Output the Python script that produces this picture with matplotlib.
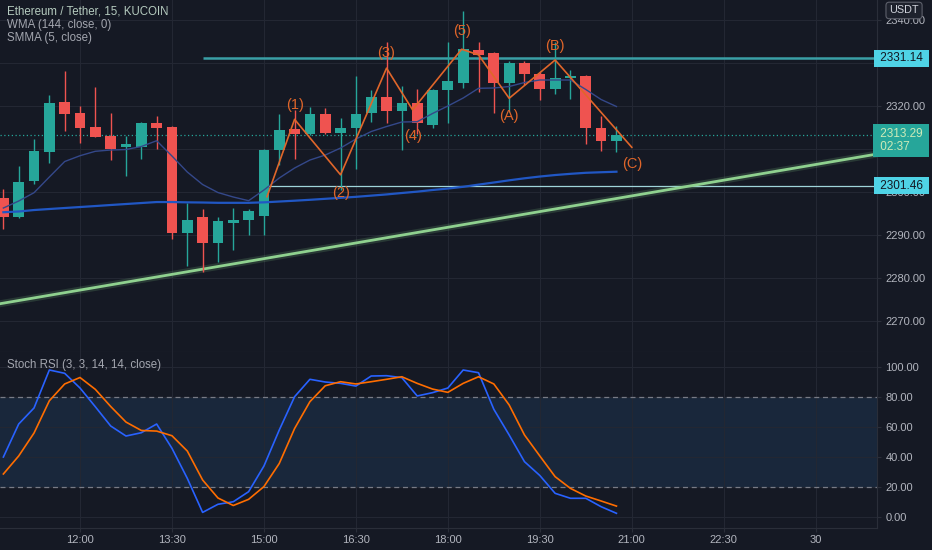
import numpy as np
import matplotlib
matplotlib.use("Agg")
import matplotlib.pyplot as plt

plt.rcParams["font.family"] = ["Liberation Sans", "DejaVu Sans"]

# ---------------- data ----------------
idx = list(range(-5, 36))  # 15-minute bars, 0 = 12:00
opens = [2298.7, 2294.3, 2302.6, 2309.3, 2320.9, 2318.4, 2315.2, 2313.0, 2310.4, 2310.5,
         2316.0, 2315.2, 2290.4, 2294.1, 2288.2, 2292.7, 2293.5, 2294.4, 2309.8, 2314.6,
         2313.5, 2318.1, 2313.8, 2315.0, 2318.3, 2322.0, 2318.8, 2320.6, 2315.6, 2323.7,
         2325.4, 2333.0, 2332.3, 2325.4, 2330.1, 2327.4, 2323.9, 2326.4, 2327.0, 2315.0,
         2311.9]
highs = [2300.7, 2306.0, 2312.3, 2322.6, 2328.2, 2320.0, 2324.5, 2318.3, 2313.0, 2316.2,
         2317.7, 2315.4, 2297.4, 2296.0, 2294.3, 2296.2, 2296.0, 2309.9, 2318.1, 2319.1,
         2319.8, 2319.5, 2317.1, 2327.0, 2323.7, 2335.0, 2324.7, 2323.9, 2324.0, 2335.0,
         2342.1, 2334.8, 2332.5, 2330.5, 2330.5, 2328.0, 2335.0, 2328.4, 2327.2, 2317.7,
         2315.4]
lows = [2291.4, 2294.0, 2301.9, 2306.8, 2314.2, 2311.5, 2312.7, 2307.4, 2303.7, 2307.7,
        2310.0, 2289.1, 2282.9, 2281.5, 2283.7, 2286.5, 2290.0, 2290.0, 2306.3, 2307.6,
        2313.3, 2313.5, 2300.5, 2305.3, 2316.3, 2316.0, 2309.8, 2313.6, 2314.8, 2316.1,
        2324.3, 2323.3, 2318.4, 2318.7, 2324.9, 2321.4, 2322.7, 2321.6, 2311.1, 2309.5,
        2309.4]
closes = [2294.3, 2302.3, 2309.5, 2320.8, 2318.1, 2315.0, 2312.9, 2310.0, 2311.2, 2316.0,
          2315.0, 2290.4, 2293.6, 2288.2, 2293.3, 2293.6, 2295.6, 2309.8, 2314.4, 2313.4,
          2318.1, 2313.7, 2315.0, 2318.1, 2322.0, 2318.8, 2320.8, 2316.1, 2323.7, 2325.9,
          2333.2, 2331.9, 2325.4, 2330.1, 2327.4, 2324.0, 2326.6, 2327.0, 2315.0, 2311.9,
          2313.29]

wma144 = [2295.30, 2295.47, 2295.81, 2296.05, 2296.28, 2296.51, 2296.74, 2296.98, 2297.21, 2297.44,
          2297.67, 2297.67, 2297.60, 2297.56, 2297.49, 2297.49, 2297.49, 2297.60, 2297.79, 2297.98,
          2298.19, 2298.42, 2298.65, 2298.88, 2299.16, 2299.44, 2299.77, 2300.09, 2300.47, 2300.81,
          2301.21, 2301.72, 2302.21, 2302.72, 2303.19, 2303.60, 2303.95, 2304.23, 2304.47, 2304.60,
          2304.72]
smma5 = [2296.28, 2297.91, 2299.84, 2303.49, 2307.09, 2308.44, 2309.47, 2309.77, 2309.88, 2310.58,
         2311.93, 2308.37, 2304.65, 2301.74, 2299.88, 2298.84, 2297.98, 2300.47, 2303.26, 2305.58,
         2307.44, 2308.60, 2310.23, 2312.33, 2314.07, 2315.23, 2316.28, 2316.35, 2318.26, 2320.00,
         2321.86, 2324.12, 2324.19, 2324.53, 2325.47, 2326.05, 2326.05, 2326.05, 2323.84, 2321.51,
         2319.88]

stoch_k = [39.8, 61.8, 72.5, 97.8, 95.6, 85.8, 73.3, 60.5, 53.8, 56.0,
           61.8, 45.6, 25.6, 2.9, 8.3, 10.0, 16.7, 33.8, 57.8, 80.0,
           91.6, 89.8, 88.9, 87.1, 93.8, 94.0, 92.7, 80.5, 82.7, 85.8,
           97.8, 96.0, 71.6, 54.5, 36.7, 27.5, 15.6, 12.3, 12.3, 6.7,
           2.3]
stoch_d = [28.5, 40.5, 55.8, 77.3, 88.5, 92.8, 84.9, 73.5, 63.1, 57.5,
           57.1, 54.0, 43.8, 24.5, 12.5, 7.5, 11.6, 20.1, 35.5, 58.8,
           76.7, 87.3, 90.0, 88.5, 90.0, 91.6, 93.3, 88.9, 85.1, 82.9,
           88.9, 93.3, 88.5, 74.5, 54.5, 40.5, 26.7, 18.9, 13.8, 10.5,
           7.1]

wave_x = [12.2, 14, 17, 20, 21.7, 24.9, 26.0, 28, 31, 36]
wave_y = [2298.9, 2316.9, 2304.0, 2328.8, 2319.1, 2333.2, 2331.9, 2321.8, 2330.7, 2310.4]
wave_labels = {1: "(1)", 2: "(2)", 3: "(3)", 4: "(4)", 5: "(5)", 7: "(A)", 8: "(B)", 9: "(C)"}

level_hi, level_hi_from = 2331.14, 8
level_lo, level_lo_from = 2301.46, 12
last_price, countdown = 2313.29, "02:37"
trend_p1 = (0, 2277.2)
trend_p2 = (48, 2306.4)

price_ticks = [2270, 2280, 2290, 2300, 2310, 2320, 2330, 2340]
rsi_ticks = [0, 20, 40, 60, 80, 100]
time_ticks = [0, 6, 12, 18, 24, 30, 36, 42, 48]
time_labels = ["12:00", "13:30", "15:00", "16:30", "18:00", "19:30", "21:00", "22:30", "30"]

# ---------------- style ----------------
BG = "#151924"
GRID = "#232733"
TXT = "#b2b5be"
UP, DN = "#26a69a", "#ef5350"
ORANGE = "#e0662a"

fig = plt.figure(figsize=(9.32, 5.5), dpi=100, facecolor=BG)
ax = fig.add_axes([0, 0.36, 0.941, 0.64], facecolor=BG)
axr = fig.add_axes([0, 0.04, 0.941, 0.32], facecolor=BG, sharex=ax)

for a in (ax, axr):
    a.grid(True, color=GRID, lw=0.8)
    a.set_axisbelow(True)
    a.yaxis.tick_right()
    a.tick_params(axis="y", colors=TXT, labelsize=8, length=3, color="#2a2e39", pad=3)
    a.tick_params(axis="x", colors=TXT, labelsize=8, length=3, color="#2a2e39", pad=2)
    for s in ("left", "top"):
        a.spines[s].set_visible(False)
    for s in ("right", "bottom"):
        a.spines[s].set_color("#2a2e39")

ax.set_xlim(-5.22, 52.0)
ax.set_ylim(2262.8, 2344.65)
axr.set_ylim(-7.5, 109.8)
ax.set_yticks(price_ticks)
ax.set_yticklabels([f"{v:.2f}" for v in price_ticks])
axr.set_yticks(rsi_ticks)
axr.set_yticklabels([f"{v:.2f}" for v in rsi_ticks])
axr.set_xticks(time_ticks)
axr.set_xticklabels(time_labels)
ax.tick_params(axis="x", labelbottom=False, length=0)

# candles
o, h, l, c = map(np.array, (opens, highs, lows, closes))
cols = np.where(c >= o, UP, DN)
ax.vlines(idx, l, h, colors=cols, lw=1, zorder=3)
ax.bar(idx, np.maximum(np.abs(c - o), 0.2), bottom=np.minimum(o, c), width=0.7,
       color=cols, zorder=4)

# moving averages
ax.plot(idx, wma144, color="#2157c4", lw=1.6, zorder=5)
ax.plot(idx, smma5, color="#34488a", lw=1.0, zorder=5)

# levels and trend
ax.hlines(level_hi, level_hi_from, 60, color="#3a9fa6", lw=1.8, zorder=2)
ax.hlines(level_lo, level_lo_from, 60, color="#9fd4da", lw=0.9, zorder=2)
ax.axhline(last_price, color=UP, lw=0.9, ls=(0, (1, 2)), zorder=2)
ax.axline(trend_p1, trend_p2, color="#81c784", lw=5, alpha=0.18, zorder=2)
ax.axline(trend_p1, trend_p2, color="#8fd18f", lw=2.0, zorder=2)

# Elliott wave count
ax.plot(wave_x, wave_y, color=ORANGE, lw=1.2, zorder=6)
offs = {1: 14, 2: -18, 3: 15, 4: -26, 5: 18, 7: -18, 8: 14, 9: -17}
for k, lab in wave_labels.items():
    ax.annotate(lab, (wave_x[k], wave_y[k]), xytext=(0, offs[k]), textcoords="offset pixels",
                ha="center", va="center", color=ORANGE, fontsize=10.5, zorder=7)

# price labels on the axis
tr = matplotlib.transforms.blended_transform_factory(ax.transAxes, ax.transData)
for lv in (level_hi, level_lo):
    ax.text(1.0, lv, f" {lv:.2f} ", transform=tr, ha="left", va="center", fontsize=8.5,
            color="#131722", clip_on=False, zorder=10,
            bbox=dict(boxstyle="square,pad=0.22", fc="#4fd3e6", ec="none"))
ax.annotate(f" {last_price:.2f} \n {countdown}", (1.0, last_price), xycoords=tr,
            xytext=(0, 7), textcoords="offset pixels", ha="left", va="top",
            fontsize=8.5, color="#cdeab8", linespacing=1.15, annotation_clip=False, zorder=10,
            bbox=dict(boxstyle="square,pad=0.3", fc=UP, ec="none"))
ax.text(0.970, 0.981, "USDT", transform=fig.transFigure, ha="center", va="center",
        fontsize=7.8, color="#d1d4dc", zorder=11,
        bbox=dict(boxstyle="round,pad=0.3", fc="#1e222d", ec="#5d606b", lw=0.8))

# legends
ax.text(0.008, 0.966, "Ethereum / Tether, 15, KUCOIN", transform=ax.transAxes,
        color="#b5cbbf", fontsize=8.3, va="center")
ax.text(0.008, 0.929, "WMA (144, close, 0)", transform=ax.transAxes,
        color="#a3a6af", fontsize=8.3, va="center")
ax.text(0.008, 0.892, "SMMA (5, close)", transform=ax.transAxes,
        color="#a3a6af", fontsize=8.3, va="center")

# stoch RSI
axr.axhspan(20, 80, color="#1b2c44", alpha=0.75, lw=0, zorder=0.5)
for lv in (20, 80):
    axr.axhline(lv, color="#787b86", lw=0.9, ls=(0, (4, 3)), zorder=1)
axr.plot(idx, stoch_k, color="#2962ff", lw=1.2, zorder=5)
axr.plot(idx, stoch_d, color="#ff6d00", lw=1.2, zorder=5)
axr.text(0.008, 0.926, "Stoch RSI (3, 3, 14, 14, close)", transform=axr.transAxes,
         color="#a3a6af", fontsize=8.3, va="center")

fig.savefig("out.png", dpi=100, facecolor=BG)
